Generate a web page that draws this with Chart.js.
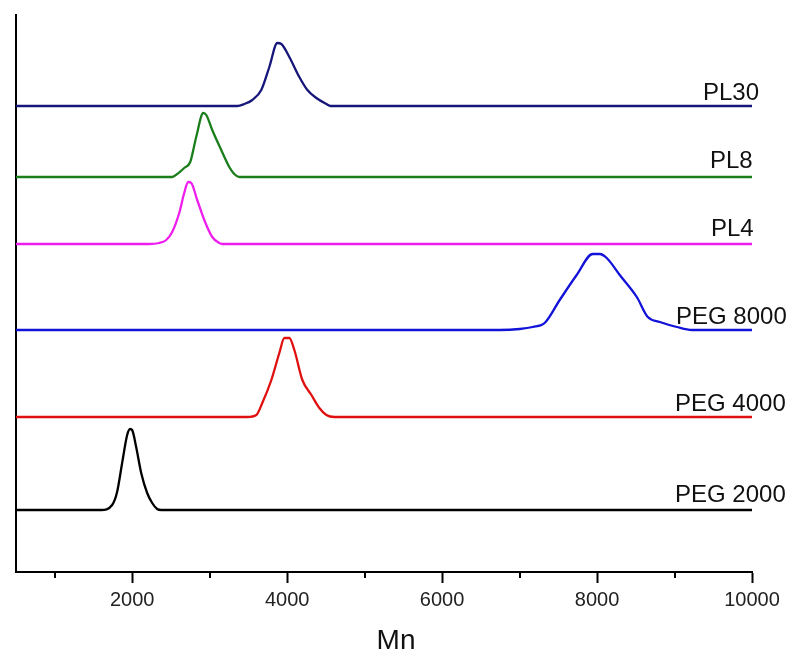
<!DOCTYPE html>
<html>
<head>
<meta charset="utf-8">
<script src="https://cdn.jsdelivr.net/npm/chart.js@4.4.1/dist/chart.umd.min.js"></script>
<style>
  html, body { margin: 0; padding: 0; background: #ffffff; }
  #wrap { width: 790px; height: 653px; position: relative; }
</style>
</head>
<body>
<div id="wrap"><canvas id="chart" width="790" height="653"></canvas></div>
<script>
// GPC traces, offset vertically (arbitrary stacked intensity units)
const seriesNames = ['PL30', 'PL8', 'PL4', 'PEG 8000', 'PEG 4000', 'PEG 2000'];
const seriesColors = ['#16167a', '#1a7f1a', '#ee1fee', '#1212d8', '#e01010', '#000000'];

const pl30Mn = [500, 3356, 3447, 3550, 3666, 3770, 3873, 3925, 4028, 4157, 4261, 4377, 4506, 4560, 10000];
const pl30Y  = [466, 466, 468, 472, 482, 505, 529, 528, 515, 495, 482, 474, 468, 466, 466];

const pl8Mn = [500, 2516, 2581, 2671, 2749, 2826, 2917, 2956, 3033, 3149, 3253, 3317, 3382, 10000];
const pl8Y  = [395, 395, 398, 404, 410, 435, 459, 457, 442, 422, 405, 398, 395, 395];

const pl4Mn = [500, 2219, 2348, 2439, 2516, 2607, 2671, 2723, 2762, 2839, 2930, 3033, 3124, 3162, 10000];
const pl4Y  = [328, 328, 329, 332, 340, 359, 379, 390, 389, 372, 352, 335, 329, 328, 328];

const peg8000Mn = [500, 6742, 7001, 7169, 7324, 7518, 7737, 7944, 8035, 8125, 8293, 8513, 8655, 8811, 9030, 9224, 10000];
const peg8000Y  = [242, 242, 243, 245, 249, 272, 297, 318, 318, 314, 297, 275, 255, 250, 245, 242, 242];

const peg4000Mn = [500, 3253, 3486, 3602, 3679, 3796, 3899, 3964, 4028, 4093, 4196, 4313, 4416, 4506, 4610, 10000];
const peg4000Y  = [155, 155, 155, 157, 169, 192, 219, 234, 234, 222, 192, 177, 164, 157, 155, 155];

const peg2000Mn = [500, 1599, 1741, 1805, 1870, 1935, 1973, 1999, 2051, 2116, 2193, 2258, 2322, 2374, 10000];
const peg2000Y  = [62, 62, 67, 80, 109, 137, 143, 142, 125, 99, 79, 69, 63, 62, 62];

const xTickValues = [2000, 4000, 6000, 8000, 10000];
const xMinorTicks = [1000, 3000, 5000, 7000, 9000];
const xTitle = 'Mn';

const seriesX = [pl30Mn, pl8Mn, pl4Mn, peg8000Mn, peg4000Mn, peg2000Mn];
const seriesY = [pl30Y, pl8Y, pl4Y, peg8000Y, peg4000Y, peg2000Y];

const datasets = seriesNames.map((name, i) => ({
  label: name,
  data: seriesX[i].map((x, k) => ({ x: x, y: seriesY[i][k] })),
  borderColor: seriesColors[i],
  borderWidth: 2.3,
  pointRadius: 0,
  cubicInterpolationMode: 'monotone',
  fill: false
}));

// label placement: left edge of text (px) and gap above the trace baseline (px)
const labelLayout = [
  { left: 703, gap: 6 },
  { left: 710, gap: 9 },
  { left: 711, gap: 8 },
  { left: 676, gap: 6 },
  { left: 675, gap: 6 },
  { left: 675, gap: 8 }
];

const annotate = {
  id: 'annotate',
  afterDraw(chart) {
    const ctx = chart.ctx;
    const xs = chart.scales.x, ys = chart.scales.y;
    ctx.save();
    // minor ticks on the Mn axis
    ctx.strokeStyle = '#000';
    ctx.lineWidth = 2;
    xMinorTicks.forEach(v => {
      const px = Math.round(xs.getPixelForValue(v));
      ctx.beginPath();
      ctx.moveTo(px, ys.bottom);
      ctx.lineTo(px, ys.bottom + 6);
      ctx.stroke();
    });
    // trace names
    ctx.fillStyle = '#111';
    ctx.font = '24px "Liberation Sans", Arial, sans-serif';
    ctx.textAlign = 'left';
    ctx.textBaseline = 'alphabetic';
    seriesNames.forEach((name, i) => {
      const yArr = seriesY[i];
      const py = ys.getPixelForValue(yArr[yArr.length - 1]) - labelLayout[i].gap;
      ctx.fillText(name, labelLayout[i].left, py);
    });
    // axis title
    ctx.font = '28px "Liberation Sans", Arial, sans-serif';
    ctx.textAlign = 'center';
    ctx.fillText(xTitle, 396, 649);
    ctx.restore();
  }
};

new Chart(document.getElementById('chart'), {
  type: 'line',
  data: { datasets: datasets },
  options: {
    responsive: false,
    animation: false,
    layout: { padding: { left: 16, right: 38, top: 15, bottom: 0 } },
    plugins: { legend: { display: false }, tooltip: { enabled: false } },
    scales: {
      x: {
        type: 'linear',
        min: 500,
        max: 10000,
        bounds: 'data',
        afterFit: s => { s.height = 81; },
        afterBuildTicks: s => { s.ticks = xTickValues.map(v => ({ value: v })); },
        ticks: {
          color: '#222',
          font: { size: 20, family: '"Liberation Sans", Arial, sans-serif' },
          padding: 5,
          maxRotation: 0,
          callback: v => String(v)
        },
        grid: {
          display: true,
          drawOnChartArea: false,
          drawTicks: true,
          tickLength: 11,
          tickWidth: 2,
          tickColor: '#000'
        },
        border: { display: true, color: '#000', width: 2 }
      },
      y: {
        type: 'linear',
        min: 0,
        max: 557,
        afterFit: s => { s.width = 0; },
        ticks: { display: false },
        grid: { display: false, drawTicks: false },
        border: { display: true, color: '#000', width: 2 }
      }
    }
  },
  plugins: [annotate]
});
</script>
</body>
</html>
